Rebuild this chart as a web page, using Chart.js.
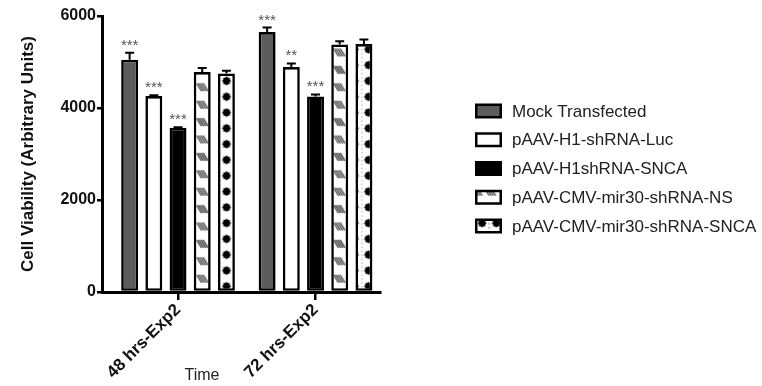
<!DOCTYPE html>
<html>
<head>
<meta charset="utf-8">
<script src="https://cdn.jsdelivr.net/npm/chart.js@4.4.0/dist/chart.umd.min.js"></script>
<style>
  html, body { margin: 0; padding: 0; background: #fff; }
</style>
</head>
<body>
<canvas id="viabilityChart" width="762" height="386"></canvas>
<script>
// data
const categories = ['48 hrs-Exp2', '72 hrs-Exp2'];
const seriesNames = ['Mock Transfected', 'pAAV-H1-shRNA-Luc', 'pAAV-H1shRNA-SNCA', 'pAAV-CMV-mir30-shRNA-NS', 'pAAV-CMV-mir30-shRNA-SNCA'];
const mockValues = [5050, 5650];
const lucValues = [4260, 4890];
const sncaValues = [3570, 4250];
const nsValues = [4780, 5380];
const mirSncaValues = [4750, 5390];
const mockErr = [150, 100];
const lucErr = [15, 80];
const sncaErr = [10, 45];
const nsErr = [90, 70];
const mirSncaErr = [60, 100];
const mockStars = ['***', '***'];
const lucStars = ['***', '**'];
const sncaStars = ['***', '***'];
const nsStars = ['', ''];
const mirSncaStars = ['', ''];
const yTicks = [0, 2000, 4000, 6000];

const FONT = "'Liberation Sans', Arial, Helvetica, sans-serif";

function hatchPattern() {
  const c = document.createElement('canvas');
  c.width = 137; c.height = 87;
  const g = c.getContext('2d');
  g.fillStyle = '#fff';
  g.fillRect(0, 0, c.width, c.height);
  g.strokeStyle = '#333';
  g.lineWidth = 1.2;
  for (let i = 0; i < 10; i++) {
    for (let j = 0; j < 5; j++) {
      const cx = 6.85 + 13.7 * i, cy = 8.7 + 17.4 * j;
      for (let k = 0; k < 4; k++) {
        const x = cx - 5.5 + 2.2 * k;
        g.beginPath();
        g.moveTo(x, cy - 4);
        g.lineTo(x + 5, cy + 4);
        g.stroke();
      }
    }
  }
  const p = g.createPattern(c, 'repeat');
  p.setTransform(new DOMMatrix().translate(3.35, 8.9));
  return p;
}

function blobPattern() {
  const c = document.createElement('canvas');
  c.width = 71; c.height = 79;
  const g = c.getContext('2d');
  g.fillStyle = '#fff';
  g.fillRect(0, 0, c.width, c.height);
  g.fillStyle = '#000';
  for (let i = 0; i < 5; i++) {
    for (let j = 0; j < 5; j++) {
      const x = 7.1 + 14.2 * i, y = 7.9 + 15.8 * j;
      g.fillRect(x - 3.2, y - 3.2, 6.4, 6.4);
      g.save();
      g.translate(x, y);
      g.rotate(Math.PI / 4);
      g.fillRect(-3.2, -3.2, 6.4, 6.4);
      g.restore();
    }
  }
  g.fillStyle = '#555';
  for (let i = 0; i < 5; i++) {
    for (let j = 0; j < 20; j++) {
      g.fillRect(14.2 * i - 0.6, 3.95 * j, 1.2, 1.2);
    }
  }
  const p = g.createPattern(c, 'repeat');
  p.setTransform(new DOMMatrix().translate(6.4, 9.8));
  return p;
}

const fills = ['#5c5c5c', '#ffffff', '#000000', hatchPattern(), blobPattern()];
const valueSets = [mockValues, lucValues, sncaValues, nsValues, mirSncaValues];
const errSets = [mockErr, lucErr, sncaErr, nsErr, mirSncaErr];
const starSets = [mockStars, lucStars, sncaStars, nsStars, mirSncaStars];

const datasets = seriesNames.map((name, i) => ({
  label: name,
  data: valueSets[i],
  errors: errSets[i],
  stars: starSets[i],
  backgroundColor: fills[i],
  borderColor: '#000',
  borderWidth: 2.6,
  borderSkipped: false,
  categoryPercentage: 0.88,
  barPercentage: 0.70
}));

// error bars and significance stars
const errorBars = {
  id: 'errorBars',
  afterDatasetsDraw(chart) {
    const ctx = chart.ctx;
    const y = chart.scales.y;
    ctx.save();
    chart.data.datasets.forEach((ds, di) => {
      const meta = chart.getDatasetMeta(di);
      meta.data.forEach((bar, i) => {
        const top = y.getPixelForValue(ds.data[i] + ds.errors[i]);
        ctx.strokeStyle = '#000';
        ctx.lineWidth = 2;
        ctx.beginPath();
        ctx.moveTo(bar.x, bar.y);
        ctx.lineTo(bar.x, top);
        ctx.moveTo(bar.x - 4.5, top);
        ctx.lineTo(bar.x + 4.5, top);
        ctx.stroke();
        if (ds.stars[i]) {
          ctx.fillStyle = '#555';
          ctx.font = '15px ' + FONT;
          ctx.textAlign = 'center';
          ctx.textBaseline = 'alphabetic';
          ctx.fillText(ds.stars[i], bar.x, top - 3);
        }
      });
    });
    ctx.restore();
  }
};

// legend on the right and the x axis title
const sideLegend = {
  id: 'sideLegend',
  afterDraw(chart) {
    const ctx = chart.ctx;
    ctx.save();
    chart.data.datasets.forEach((ds, i) => {
      const cy = 111 + 28.75 * i;
      ctx.fillStyle = '#000';
      ctx.fillRect(475, cy - 7.5, 27, 15);
      ctx.fillStyle = ds.backgroundColor;
      ctx.fillRect(477.5, cy - 5, 22, 10);
      ctx.fillStyle = '#222';
      ctx.font = '17px ' + FONT;
      ctx.textAlign = 'left';
      ctx.textBaseline = 'middle';
      ctx.fillText(ds.label, 512, cy + 1);
    });
    ctx.fillStyle = '#222';
    ctx.font = '16px ' + FONT;
    ctx.textAlign = 'center';
    ctx.textBaseline = 'alphabetic';
    ctx.fillText('Time', 202, 380);
    ctx.restore();
  }
};

new Chart(document.getElementById('viabilityChart').getContext('2d'), {
  type: 'bar',
  data: { labels: [0, 1], datasets: datasets },
  plugins: [errorBars, sideLegend],
  options: {
    responsive: false,
    animation: false,
    devicePixelRatio: 1,
    layout: { padding: { top: 16, right: 382, left: 0, bottom: 0 } },
    plugins: { legend: { display: false }, tooltip: { enabled: false } },
    scales: {
      x: {
        type: 'linear',
        min: -0.553,
        max: 1.469,
        offset: false,
        afterBuildTicks: (s) => { s.ticks = categories.map((c, i) => ({ value: i })); },
        afterFit: (s) => { s.height = 94; s.paddingLeft = 0; s.paddingRight = 0; },
        ticks: {
          callback: (v) => categories[v],
          font: { family: FONT, size: 17, weight: 'bold' },
          color: '#111',
          minRotation: 45,
          maxRotation: 45,
          padding: 0,
          includeBounds: false
        },
        grid: { display: true, offset: false, drawOnChartArea: false, drawTicks: true, tickLength: 8, color: '#000', lineWidth: 2.5 },
        border: { display: true, color: '#000', width: 3 }
      },
      y: {
        min: 0,
        max: 6000,
        afterBuildTicks: (s) => { s.ticks = yTicks.map((v) => ({ value: v })); },
        afterFit: (s) => { s.width = 102; s.paddingTop = 0; s.paddingBottom = 0; },
        ticks: {
          callback: (v) => String(v),
          font: { family: FONT, size: 16, weight: 'bold' },
          color: '#111',
          padding: 1
        },
        grid: { display: true, drawOnChartArea: false, drawTicks: true, tickLength: 5, color: '#000', lineWidth: 2.5 },
        border: { display: true, color: '#000', width: 3 },
        title: {
          display: true,
          text: 'Cell Viability (Arbitrary Units)',
          font: { family: FONT, size: 17, weight: 'bold' },
          color: '#111',
          padding: { top: 18, bottom: 0 }
        }
      }
    }
  }
});
</script>
</body>
</html>
